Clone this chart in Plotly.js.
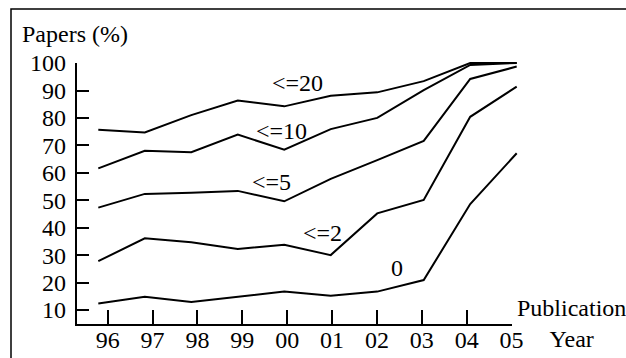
<!DOCTYPE html>
<html>
<head>
<meta charset="utf-8">
<script src="https://cdn.plot.ly/plotly-3.0.1.min.js"></script>
<style>html,body{margin:0;padding:0;background:#fff;}#chart{width:626px;height:358px;}</style>
</head>
<body>
<div id="chart"></div>
<script>
// ---- data ----
const yearLabels = ['96','97','98','99','00','01','02','03','04','05'];
const seriesNames = ['<=20','<=10','<=5','<=2','0'];
const le20 = [75.7, 74.7, 81.0, 86.3, 84.2, 88.1, 89.3, 93.4, 100, 100];
const le10 = [61.6, 68.0, 67.5, 73.9, 68.4, 75.9, 80.0, 90.1, 99.3, 100];
const le5  = [47.3, 52.3, 52.7, 53.4, 49.6, 57.8, 64.6, 71.6, 94.2, 98.7];
const le2  = [27.8, 36.1, 34.7, 32.2, 33.8, 30.0, 45.2, 50.1, 80.4, 91.4];
const zero = [12.4, 14.8, 12.9, 14.8, 16.7, 15.2, 16.7, 20.9, 48.6, 67.1];
const yTicks = [10, 20, 30, 40, 50, 60, 70, 80, 90, 100];

// ---- layout helpers (pixel -> paper) ----
const W = 626, H = 358;
const fx = p => p / W;
const fy = p => 1 - p / H;
function lin(pA, vA, pB, vB) { return p => vA + (p - pA) * (vB - vA) / (pB - pA); }

const idx = yearLabels.map((_, i) => i);
const last = idx.length - 1;

// data subplot (hidden axes) calibration
const dX = lin(98.3, 0, 516.7, last);
const dY = lin(63, 100, 310, 10);
const dDomX = [40, 600], dDomY = [20, 350];
// visible axes calibration
const vX = lin(107.7, 0, 511.7, last);
const vDomX = [77, 512], vDomY = [63, 324];
const yRange = [dY(vDomY[1]), 100.03];

function mkFont() { return {family: 'Liberation Serif', size: 24, color: '#000000'}; }

const seriesVals = [le20, le10, le5, le2, zero];
const traces = seriesVals.map((v, i) => ({
  x: idx, y: v, name: seriesNames[i], type: 'scatter', mode: 'lines',
  line: {color: '#000', width: 2}, xaxis: 'x', yaxis: 'y', hoverinfo: 'skip', showlegend: false
}));
traces.push({x: [], y: [], xaxis: 'x2', yaxis: 'y2', type: 'scatter', mode: 'lines', showlegend: false});
traces.push({x: [], y: [], xaxis: 'x3', yaxis: 'y3', type: 'scatter', mode: 'lines', showlegend: false});

const labelPos = [[297.5, 83.3], [281.7, 131.2], [271, 181.8], [322, 233], [396.7, 267.5]];
const annotations = seriesNames.map((n, i) => ({
  text: n.replace('<', '&lt;'), xref: 'paper', yref: 'paper',
  x: fx(labelPos[i][0]), y: fy(labelPos[i][1]), xanchor: 'center', yanchor: 'middle',
  showarrow: false, font: mkFont(), borderpad: 0, borderwidth: 0
}));
annotations.push({text: 'Papers (%)', xref: 'paper', yref: 'paper', x: fx(22), y: fy(34),
  xanchor: 'left', yanchor: 'middle', showarrow: false, font: mkFont(), borderpad: 0, borderwidth: 0});
annotations.push({text: 'Publication<br>Year', xref: 'paper', yref: 'paper', x: fx(571), y: fy(323),
  xanchor: 'center', yanchor: 'middle', align: 'center', showarrow: false, font: mkFont(), borderpad: 0, borderwidth: 0});

const layout = {
  width: W, height: H,
  margin: {l: 0, r: 0, t: 0, b: 0},
  paper_bgcolor: '#fff', plot_bgcolor: 'rgba(0,0,0,0)',
  showlegend: false,
  font: mkFont(),
  xaxis: {domain: [fx(dDomX[0]), fx(dDomX[1])], range: [dX(dDomX[0]), dX(dDomX[1])], visible: false, anchor: 'y'},
  yaxis: {domain: [fy(dDomY[1]), fy(dDomY[0])], range: [dY(dDomY[1]), dY(dDomY[0])], visible: false, anchor: 'x'},
  xaxis2: {domain: [fx(vDomX[0]), fx(vDomX[1])], range: [vX(vDomX[0]), vX(vDomX[1]) + 0.002], anchor: 'y2',
    showline: true, linecolor: '#000', linewidth: 2, showgrid: false, zeroline: false,
    ticks: 'inside', ticklen: 14, tickwidth: 2, tickcolor: '#000', ticklabelstandoff: -7,
    tickmode: 'array', tickvals: idx, ticktext: yearLabels, tickfont: mkFont(), fixedrange: true},
  yaxis2: {domain: [fy(vDomY[1]), fy(vDomY[0])], range: yRange, anchor: 'x2',
    showline: true, linecolor: '#000', linewidth: 2, showgrid: false, zeroline: false,
    ticks: 'inside', ticklen: 12, tickwidth: 2, tickcolor: '#000', showticklabels: false,
    tickmode: 'array', tickvals: yTicks, fixedrange: true},
  // separate (non-overlaid) subplot carrying only the y tick labels, shifted left
  xaxis3: {domain: [fx(67), fx(70)], range: [0, 1], visible: false, anchor: 'y3', fixedrange: true},
  yaxis3: {domain: [fy(vDomY[1]), fy(vDomY[0])], range: yRange, anchor: 'x3', side: 'left',
    showline: false, showgrid: false, zeroline: false, ticks: '',
    tickmode: 'array', tickvals: yTicks, ticktext: yTicks.map(String), tickfont: mkFont(), fixedrange: true},
  shapes: [{type: 'rect', xref: 'paper', yref: 'paper', x0: fx(11), x1: fx(700), y0: fy(9), y1: fy(420),
    line: {color: '#000', width: 1.5}, fillcolor: 'rgba(0,0,0,0)', layer: 'below'}],
  annotations: annotations
};

Plotly.newPlot('chart', traces, layout, {displayModeBar: false, staticPlot: true});
</script>
</body>
</html>
